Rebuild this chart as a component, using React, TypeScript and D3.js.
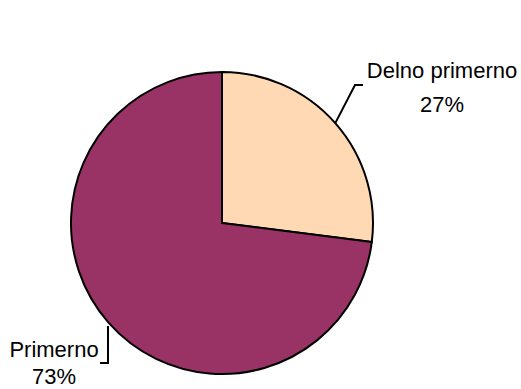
import React from "react";
import * as d3 from "d3";

const categories = ["Delno primerno", "Primerno"];
const values = [27, 73];
const percentLabels = ["27%", "73%"];
const colors = ["#FFD9B3", "#993366"];

export default function App() {
  const width = 521;
  const height = 389;
  const cx = 222;
  const cy = 223;
  const r = 151;
  const pie = d3.pie<number>().sort(null).value((d) => d)(values);
  const arc = d3.arc<d3.PieArcDatum<number>>().innerRadius(0).outerRadius(r);
  const font = "Liberation Sans, Arial, sans-serif";
  const a0 = (pie[0].startAngle + pie[0].endAngle) / 2;
  const p0 = [cx + r * Math.sin(a0), cy - r * Math.cos(a0)];
  const p1x = 108;
  const p1y = cy + Math.sqrt(r * r - (p1x - cx) * (p1x - cx));
  return (
    <svg width={width} height={height} style={{ position: "absolute", left: 0, top: 0 }}>
      <rect width={width} height={height} fill="#fff" />
      <g transform={`translate(${cx},${cy})`}>
        {pie.map((d, i) => (
          <path key={i} d={arc(d) || ""} fill={colors[i]} stroke="#000" strokeWidth={2} strokeLinejoin="round" />
        ))}
      </g>
      <polyline points={`${p0[0]},${p0[1]} 355,85 363,85`} fill="none" stroke="#000" strokeWidth={2} />
      <polyline points={`${p1x},${p1y + 4} 108,363 100,363`} fill="none" stroke="#000" strokeWidth={2} />
      <text x={442} y={78} textAnchor="middle" fontFamily={font} fontSize={22} fill="#000">{categories[0]}</text>
      <text x={442} y={112} textAnchor="middle" fontFamily={font} fontSize={22} fill="#000">{percentLabels[0]}</text>
      <text x={54} y={357} textAnchor="middle" fontFamily={font} fontSize={22} fill="#000">{categories[1]}</text>
      <text x={54} y={384} textAnchor="middle" fontFamily={font} fontSize={22} fill="#000">{percentLabels[1]}</text>
    </svg>
  );
}
